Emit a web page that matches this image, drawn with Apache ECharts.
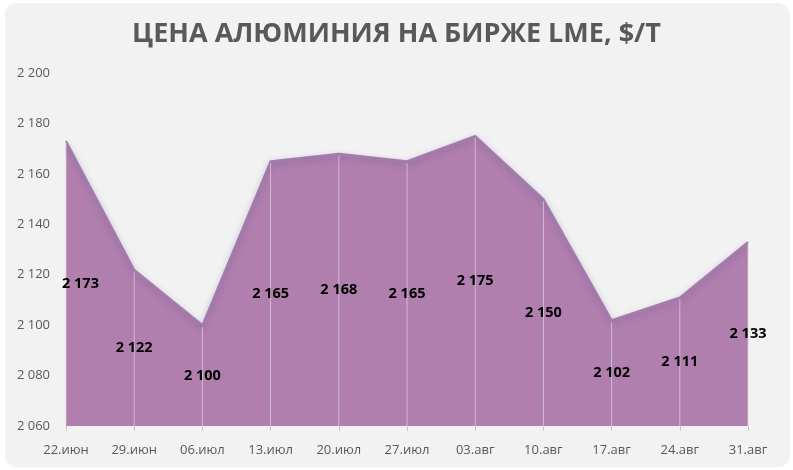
<!DOCTYPE html>
<html>
<head>
<meta charset="utf-8">
<script src="https://cdn.jsdelivr.net/npm/echarts@6/dist/echarts.min.js"></script>
<style>
    html, body {margin: 0; padding: 0; background: #fff;}
    #panel {position: absolute; left: 5px; top: 3px; width: 785px; height: 464px; background: #f2f2f2; border-radius: 12px;}
    #chart {position: absolute; left: 0; top: 0; width: 793px; height: 470px;}
</style>
</head>
<body>
<div id="panel"></div>
<div id="chart"></div>
<script>
'use strict';

const dates = ['22.июн', '29.июн', '06.июл', '13.июл', '20.июл', '27.июл', '03.авг', '10.авг', '17.авг', '24.авг', '31.авг'];
const prices = [2173, 2122, 2100, 2165, 2168, 2165, 2175, 2150, 2102, 2111, 2133];
const yMin = 2060;
const yMax = 2200;
const yStep = 20;

function fmt(v) {
    return String(v).replace(/\B(?=(\d{3})+(?!\d))/g, ' ');
}

var chart = echarts.init(document.getElementById('chart'));
var option = {
    backgroundColor: 'transparent',
    title: {
        text: 'ЦЕНА АЛЮМИНИЯ НА БИРЖЕ LME, $/T',
        left: 'center', top: 16,
        textStyle: {color: '#595959', fontSize: 27, fontWeight: 'bold', fontFamily: 'Open Sans'}
    },
    grid: {left: 66, right: 45, top: 73, bottom: 44},
    xAxis: {
        type: 'category', data: dates, boundaryGap: false,
        axisLine: {show: false},
        axisTick: {show: true, alignWithLabel: true, length: 5, lineStyle: {color: '#c8c8c8'}},
        axisLabel: {color: '#595959', fontSize: 13, margin: 18, fontFamily: 'Open Sans'}
    },
    yAxis: {
        type: 'value', min: yMin, max: yMax, interval: yStep,
        axisLine: {show: false}, axisTick: {show: false}, splitLine: {show: false},
        axisLabel: {color: '#595959', fontSize: 13, margin: 16, fontFamily: 'Open Sans', formatter: fmt}
    },
    series: [
        {
            type: 'line', data: prices, symbol: 'none', z: 2,
            lineStyle: {color: '#a07dab', width: 2, shadowBlur: 6, shadowColor: 'rgba(120,90,150,0.7)', shadowOffsetY: 3},
            areaStyle: {color: '#b07fae', opacity: 1}
        },
        {
            type: 'custom', z: 5,
            data: prices.map((v, i) => [i, v]),
            renderItem: (params, api) => {
                var i = api.value(0);
                var v = api.value(1);
                var top = api.coord([i, v]);
                var bottom = api.coord([i, yMin]);
                var first = i === 0;
                return {
                    type: 'group',
                    children: [
                        {
                            type: 'line',
                            shape: {x1: top[0], y1: top[1] + 2, x2: bottom[0], y2: bottom[1]},
                            style: {stroke: 'rgba(215,205,215,0.8)', lineWidth: 1},
                            silent: true
                        },
                        {
                            type: 'text',
                            x: first ? top[0] - 4 : top[0],
                            y: (top[1] + bottom[1]) / 2,
                            style: {
                                text: fmt(v), fill: '#000', fontSize: 14.5, fontWeight: 'bold',
                                fontFamily: 'Open Sans', align: first ? 'left' : 'center', verticalAlign: 'middle'
                            },
                            z2: 10
                        }
                    ]
                };
            }
        }
    ]
};
chart.setOption(option);
</script>
</body>
</html>
